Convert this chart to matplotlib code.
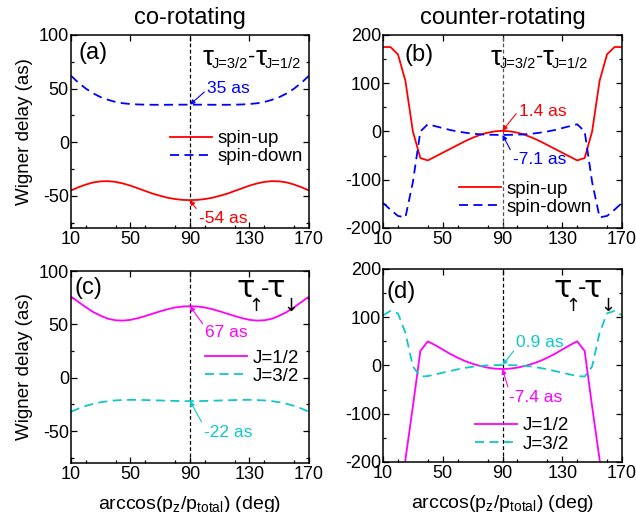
import matplotlib
matplotlib.use("Agg")
import matplotlib.pyplot as plt
from matplotlib.ticker import MultipleLocator
from matplotlib.transforms import offset_copy

plt.rcParams["font.family"] = ["Liberation Sans", "DejaVu Sans"]
plt.rcParams["mathtext.fontset"] = "custom"
plt.rcParams["mathtext.rm"] = "Liberation Sans"
plt.rcParams["mathtext.it"] = "Liberation Sans:italic"
plt.rcParams["mathtext.default"] = "regular"
plt.rcParams["axes.unicode_minus"] = False

# emission angle grid (deg)
angle = [10, 15, 20, 25, 30, 35, 40, 45, 50, 55, 60, 65, 70, 75, 80, 85, 90,
         95, 100, 105, 110, 115, 120, 125, 130, 135, 140, 145, 150, 155, 160, 165, 170]

# (a) co-rotating, tau_J=3/2 - tau_J=1/2
co_spin_up = [-45, -42, -39.5, -37.5, -36.5, -36.3, -37, -38.5, -40.5, -43, -45.5, -48, -50,
              -51.8, -53, -53.8, -54, -53.8, -53, -51.8, -50, -48, -45.5, -43, -40.5, -38.5,
              -37, -36.3, -36.5, -37.5, -39.5, -42, -45]
co_spin_down = [62, 55.5, 50, 45.5, 42, 39.5, 37.5, 36.3, 35.6, 35.2, 35, 34.9, 34.9, 34.9, 35,
                35, 35, 35, 35, 34.9, 34.9, 34.9, 35, 35.2, 35.6, 36.3, 37.5, 39.5, 42, 45.5,
                50, 55.5, 62]

# (b) counter-rotating, tau_J=3/2 - tau_J=1/2
cnt_spin_up = [175, 175, 160, 105, 0, -55, -60, -52, -44, -36, -28, -20, -13, -7, -2.5, 0.3,
               1.4, 0.3, -2.5, -7, -13, -20, -28, -36, -44, -52, -60, -55, 0, 105, 160, 175, 175]
cnt_spin_down = [-148, -162, -175, -178, -105, 0, 15, 11, 7, 3, 0, -2.5, -4.5, -5.8, -6.6, -7,
                 -7.1, -7, -6.6, -5.8, -4.5, -2.5, 0, 3, 7, 11, 15, 0, -105, -178, -175, -162, -148]

# (c) co-rotating, tau_up - tau_down
co_j12 = [76, 71, 66, 61.5, 58, 55.2, 53.8, 53.5, 54.2, 55.8, 57.8, 60, 62.2, 64.2, 65.8, 66.7,
          67, 66.7, 65.8, 64.2, 62.2, 60, 57.8, 55.8, 54.2, 53.5, 53.8, 55.2, 58, 61.5, 66, 71, 76]
co_j32 = [-32, -29, -26.5, -24.5, -23, -22, -21.3, -21, -20.8, -20.8, -21, -21.2, -21.4, -21.6,
          -21.8, -22, -22, -22, -21.8, -21.6, -21.4, -21.2, -21, -20.8, -20.8, -21, -21.3, -22,
          -23, -24.5, -26.5, -29, -32]

# (d) counter-rotating, tau_up - tau_down
cnt_j12 = [-700, -560, -420, -195, -85, 30, 50, 42, 33, 24, 16, 9, 3.5, -1, -4.5, -6.6, -7.4,
           -6.6, -4.5, -1, 3.5, 9, 16, 24, 33, 42, 50, 30, -85, -195, -420, -560, -700]
cnt_j32 = [104, 113, 108, 68, -2, -23, -22, -18.5, -15, -11.5, -8, -5, -2.5, -0.8, 0.2, 0.7,
           0.9, 0.7, 0.2, -0.8, -2.5, -5, -8, -11.5, -15, -18.5, -22, -23, -2, 68, 108, 113, 104]

# values quoted at 90 deg
co_up90, co_down90 = -54, 35
cnt_up90, cnt_down90 = 1.4, -7.1
co_j12_90, co_j32_90 = 67, -22
cnt_j12_90, cnt_j32_90 = -7.4, 0.9

RED, BLUE, MAGENTA, CYAN = "#ff0000", "#0000ff", "#ff00ff", "#10c8c8"
DASH = (0, (5, 3))


def style_axes(ax, ylim, ymajor, yminor):
    ax.set_xlim(10, 170)
    ax.set_ylim(*ylim)
    ax.set_xticks([10, 50, 90, 130, 170])
    ax.xaxis.set_minor_locator(MultipleLocator(20))
    ax.yaxis.set_major_locator(MultipleLocator(ymajor))
    ax.yaxis.set_minor_locator(MultipleLocator(yminor))
    ax.tick_params(which="both", direction="in", top=True, right=True, labelsize=13)
    ax.tick_params(which="major", length=4.5, width=0.9)
    ax.tick_params(which="minor", length=2.5, width=0.9)
    ax.tick_params(axis="x", which="minor", top=False)
    ax.tick_params(axis="x", pad=2.5)
    ax.tick_params(axis="y", pad=1.5)
    for s in ax.spines.values():
        s.set_linewidth(1.1)


def mark(ax, text, xy, xytext, color, relpos):
    ax.annotate(text, xy=xy, xytext=xytext, color=color, fontsize=12.5,
                ha="left", va="center",
                arrowprops=dict(arrowstyle="-|>", color=color, lw=0.8,
                                mutation_scale=7, shrinkA=0, shrinkB=0, relpos=relpos))


def add_legend(ax, anchor):
    ax.legend(frameon=False, loc="center left", bbox_to_anchor=anchor, fontsize=13.5,
              handlelength=2.25, handletextpad=0.27, labelspacing=0.05,
              borderpad=0, borderaxespad=0)


def delay_label(ax, x, y, pieces):
    # pieces: (text, fontsize, dx, dy, family) with offsets in points, laid out left to right
    renderer = fig.canvas.get_renderer()
    shift = 0.0
    for s, size, dx, dy, family in pieces:
        tr = offset_copy(ax.transAxes, fig=fig, x=shift + dx, y=dy, units="points")
        t = ax.text(x, y, s, fontsize=size, family=family, transform=tr,
                    ha="left", va="baseline")
        shift += dx + t.get_window_extent(renderer).width * 72.0 / fig.dpi


SANS = ["Liberation Sans", "DejaVu Sans"]
DEJAVU = ["DejaVu Sans"]
J_PIECES = [("τ", 20, 0, 0, SANS), ("J=3/2", 10.5, -1.5, -2.4, SANS), ("-", 16, 0, 1.5, SANS),
            ("τ", 20, 0, 0, SANS), ("J=1/2", 10.5, -1.5, -2.4, SANS)]
SPIN_PIECES = [("τ", 22, 0, 0, DEJAVU), ("↑", 13, -4.3, -10, DEJAVU),
               ("-", 18, -2.2, 1.0, SANS), ("τ", 22, -2.2, 0, DEJAVU),
               ("↓", 13, -0.8, -10, DEJAVU)]

fig = plt.figure(figsize=(6.36, 5.12), dpi=100)
ax_a = fig.add_axes([0.1116, 0.5547, 0.3742, 0.377])
ax_b = fig.add_axes([0.6022, 0.5547, 0.3758, 0.377])
ax_c = fig.add_axes([0.1116, 0.0957, 0.3742, 0.375])
ax_d = fig.add_axes([0.6022, 0.0977, 0.3758, 0.377])

# (a)
ax = ax_a
style_axes(ax, (-80, 100), 50, 25)
ax.axvline(90, color="black", lw=0.9, ls=(0, (3, 2)))
ax.plot(angle, co_spin_up, color=RED, lw=1.3, label="spin-up")
ax.plot(angle, co_spin_down, color=BLUE, lw=1.3, ls=DASH, label="spin-down")
mark(ax, f"{co_down90} as", (90, co_down90), (101.5, 50.5), BLUE, (0, 0.4))
mark(ax, f"{co_up90} as", (90, co_up90), (96, -71), RED, (0, 0.9))
add_legend(ax, (0.416, 0.4165))
ax.text(0.03, 0.907, "(a)", transform=ax.transAxes, fontsize=17, va="center", ha="left")
delay_label(ax, 0.555, 0.845, J_PIECES)
ax.set_title("co-rotating", fontsize=17, pad=8)
ax.set_ylabel("Wigner delay (as)", fontsize=13.5)
ax.yaxis.set_label_coords(-0.16, 0.5)

# (b)
ax = ax_b
style_axes(ax, (-200, 200), 100, 50)
ax.axvline(90, color="#555555", lw=0.9, ls=(0, (3, 2)))
ax.plot(angle, cnt_spin_up, color=RED, lw=1.3, label="spin-up")
ax.plot(angle, cnt_spin_down, color=BLUE, lw=1.3, ls=DASH, label="spin-down")
mark(ax, f"{cnt_up90} as", (90, cnt_up90), (101, 41), RED, (0, 0.6))
mark(ax, f"{cnt_down90} as", (90, cnt_down90), (97, -59), BLUE, (0, 0.85))
add_legend(ax, (0.318, 0.155))
ax.text(0.092, 0.896, "(b)", transform=ax.transAxes, fontsize=17, va="center", ha="left")
delay_label(ax, 0.45, 0.845, J_PIECES)
ax.set_title("counter-rotating", fontsize=17, pad=8)

# (c)
ax = ax_c
style_axes(ax, (-80, 100), 50, 25)
ax.axvline(90, color="black", lw=0.9, ls=(0, (3, 2)))
ax.plot(angle, co_j12, color=MAGENTA, lw=1.3, label="J=1/2")
ax.plot(angle, co_j32, color=CYAN, lw=1.3, ls=DASH, label="J=3/2")
mark(ax, f"{co_j12_90} as", (90, co_j12_90), (100.4, 42.7), MAGENTA, (0, 0.8))
mark(ax, f"{co_j32_90} as", (90, co_j32_90), (99.7, -51), CYAN, (0, 0.85))
add_legend(ax, (0.563, 0.5))
ax.text(0.015, 0.91, "(c)", transform=ax.transAxes, fontsize=17, va="center", ha="left")
delay_label(ax, 0.695, 0.865, SPIN_PIECES)
ax.set_ylabel("Wigner delay (as)", fontsize=13.5)
ax.yaxis.set_label_coords(-0.16, 0.5)
ax.set_xlabel(r"arccos(p$_z$/p$_{total}$) (deg)", fontsize=14)
ax.xaxis.set_label_coords(0.5, -0.16)

# (d)
ax = ax_d
style_axes(ax, (-200, 200), 100, 50)
ax.axvline(90, color="black", lw=0.9, ls=(0, (3, 2)))
ax.plot(angle, cnt_j12, color=MAGENTA, lw=1.3, label="J=1/2")
ax.plot(angle, cnt_j32, color=CYAN, lw=1.3, ls=DASH, label="J=3/2")
mark(ax, f"{cnt_j32_90} as", (90, cnt_j32_90), (99.3, 48), CYAN, (0, 0.15))
mark(ax, f"{cnt_j12_90} as", (90, cnt_j12_90), (94.6, -65.6), MAGENTA, (0, 0.85))
add_legend(ax, (0.385, 0.14))
ax.text(0.015, 0.88, "(d)", transform=ax.transAxes, fontsize=17, va="center", ha="left")
delay_label(ax, 0.713, 0.856, SPIN_PIECES)
ax.set_xlabel(r"arccos(p$_z$/p$_{total}$) (deg)", fontsize=14)
ax.xaxis.set_label_coords(0.5, -0.16)

fig.savefig("out.png", dpi=100)
